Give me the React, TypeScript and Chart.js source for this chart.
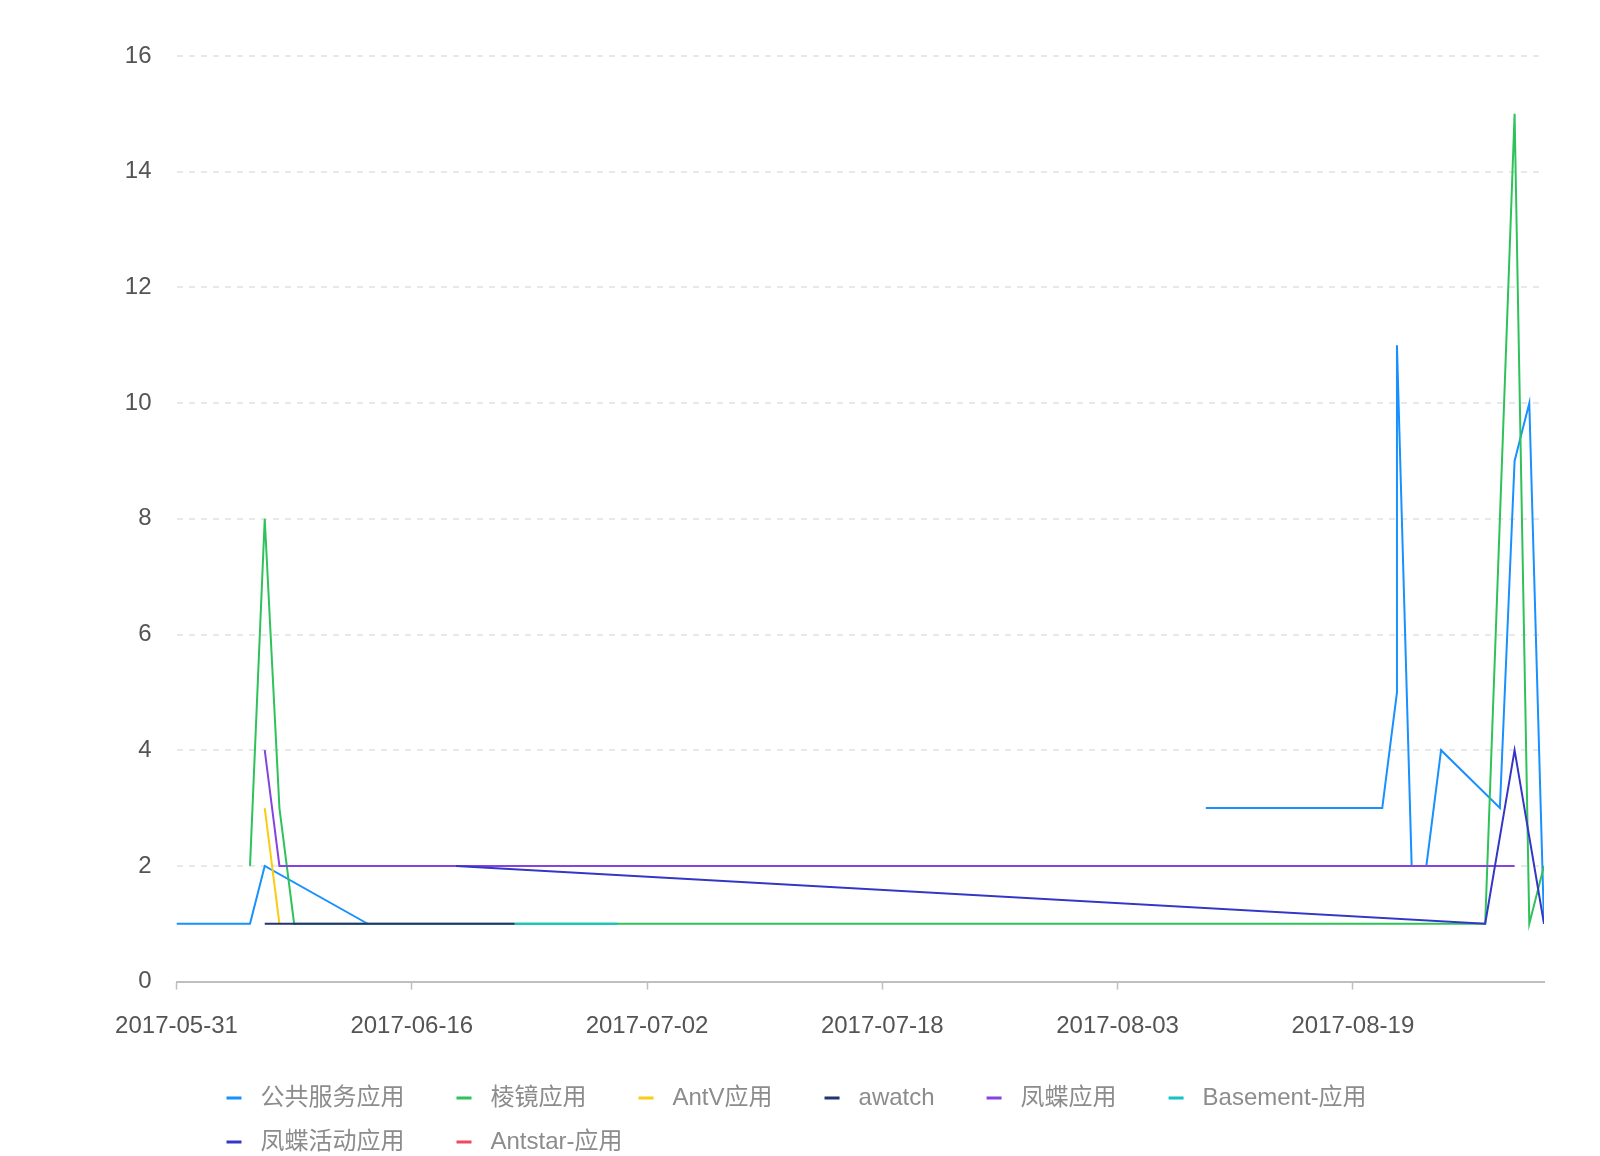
import React, { useEffect, useRef } from 'react';
import { Chart, registerables } from 'chart.js';

Chart.register(...registerables);

// ---------------- data ----------------
const seriesNames = ['公共服务应用', '棱镜应用', 'AntV应用', 'awatch', '凤蝶应用', 'Basement-应用', '凤蝶活动应用', 'Antstar-应用'];
const seriesColors = ['#1890FF', '#2FC25B', '#FACC14', '#223273', '#8543E0', '#13C2C2', '#3436C7', '#F04864'];

const publicDates = ['2017-05-31', '2017-06-05', '2017-06-06', '2017-06-13', '2017-06-14', '2017-08-09', '2017-08-21', '2017-08-22', '2017-08-22', '2017-08-23', '2017-08-24', '2017-08-25', '2017-08-29', '2017-08-30', '2017-08-31', '2017-09-01'];
const publicValues = [1, 1, 2, 1, null, 3, 3, 5, 11, 2, 2, 4, 3, 9, 10, 1];

const prismDates = ['2017-06-05', '2017-06-06', '2017-06-07', '2017-06-08', '2017-08-28', '2017-08-30', '2017-08-31', '2017-09-01'];
const prismValues = [2, 8, 3, 1, 1, 15, 1, 2];

const antvDates = ['2017-06-06', '2017-06-07'];
const antvValues = [3, 1];

const awatchDates = ['2017-06-06', '2017-06-23'];
const awatchValues = [1, 1];

const fengdieDates = ['2017-06-06', '2017-06-07', '2017-08-30'];
const fengdieValues = [4, 2, 2];

const basementDates = ['2017-06-23', '2017-06-30'];
const basementValues = [1, 1];

const fengdieEventDates = ['2017-06-19', '2017-08-28', '2017-08-30', '2017-09-01'];
const fengdieEventValues = [2, 1, 4, 1];

const antstarDates = ['2017-06-30'];
const antstarValues = [1];

const seriesDates = [publicDates, prismDates, antvDates, awatchDates, fengdieDates, basementDates, fengdieEventDates, antstarDates];
const seriesValues = [publicValues, prismValues, antvValues, awatchValues, fengdieValues, basementValues, fengdieEventValues, antstarValues];

const xStartDate = '2017-05-31';
const xEndDate = '2017-09-01';
const xTickLabels = ['2017-05-31', '2017-06-16', '2017-07-02', '2017-07-18', '2017-08-03', '2017-08-19'];
const yMin = 0;
const yMax = 16;
const yStep = 2;

// ---------------- helpers ----------------
const DAY = 86400000;
const dayOf = (d: string) => Math.round((Date.parse(d) - Date.parse(xStartDate)) / DAY);

const FONT_FAMILY = '"Liberation Sans", Arial, "Noto Sans CJK SC", sans-serif';

const legendPlugin = {
  id: 'g2Legend',
  afterDraw(chart: any) {
    const ctx = chart.ctx;
    ctx.save();
    ctx.font = `24px ${FONT_FAMILY}`;
    ctx.textBaseline = 'middle';
    ctx.textAlign = 'left';
    const startX = 226.5;
    let x = startX;
    let y = 1098;
    const rowGap = 44;
    const maxRight = chart.chartArea.right;
    chart.data.datasets.forEach((ds: any) => {
      const w = ctx.measureText(ds.label).width;
      const itemW = 34 + w;
      if (x !== startX && x + itemW > maxRight) {
        x = startX;
        y += rowGap;
      }
      ctx.fillStyle = ds.borderColor;
      ctx.fillRect(x, y - 1.5, 15, 3);
      ctx.fillStyle = '#8C8C8C';
      ctx.fillText(ds.label, x + 34, y);
      x += itemW + 52;
    });
    ctx.restore();
  },
};

export default function App() {
  const canvasRef = useRef<HTMLCanvasElement | null>(null);

  useEffect(() => {
    if (!canvasRef.current) return;
    const datasets = seriesNames.map((name, i) => ({
      label: name,
      data: seriesDates[i].map((d, j) => ({ x: dayOf(d), y: seriesValues[i][j] })),
      borderColor: seriesColors[i],
      backgroundColor: seriesColors[i],
      borderWidth: 2,
      pointRadius: 0,
      pointHoverRadius: 0,
      tension: 0,
      fill: false,
      spanGaps: false,
      order: -i,
    }));

    const tickDays = xTickLabels.map(dayOf);

    const chart = new Chart(canvasRef.current, {
      type: 'line',
      data: { datasets },
      plugins: [legendPlugin],
      options: {
        animation: false,
        responsive: true,
        maintainAspectRatio: false,
        parsing: true,
        layout: { padding: { top: 56, right: 56, left: 0, bottom: 0 } },
        plugins: {
          legend: { display: false },
          tooltip: { enabled: false },
          title: { display: false },
        },
        scales: {
          x: {
            type: 'linear',
            min: 0,
            max: dayOf(xEndDate),
            afterBuildTicks: (scale: any) => {
              scale.ticks = tickDays.map((v) => ({ value: v }));
            },
            afterFit: (scale: any) => {
              scale.height = 174.4;
            },
            ticks: {
              autoSkip: false,
              maxRotation: 0,
              padding: 22,
              color: '#545454',
              font: { size: 24, family: FONT_FAMILY },
              callback: (v: any) => {
                const idx = tickDays.indexOf(Number(v));
                return idx >= 0 ? xTickLabels[idx] : '';
              },
            },
            grid: {
              drawOnChartArea: false,
              drawTicks: true,
              tickLength: 8,
              tickColor: '#BFBFBF',
              tickWidth: 1.5,
              color: '#BFBFBF',
            },
            border: { display: true, color: '#BFBFBF', width: 2 },
          },
          y: {
            type: 'linear',
            min: yMin,
            max: yMax,
            afterFit: (scale: any) => {
              scale.width = 176.5;
            },
            ticks: {
              stepSize: yStep,
              padding: 25,
              color: '#545454',
              font: { size: 24, family: FONT_FAMILY },
            },
            grid: {
              drawTicks: false,
              color: '#E8E8E8',
              lineWidth: 2,
            },
            border: { display: false, dash: [6, 6] },
          },
        },
      },
    });
    return () => chart.destroy();
  }, []);

  return (
    <div style={{ position: 'absolute', left: 0, top: 0, width: '1600px', height: '1156px', background: '#fff' }}>
      <canvas ref={canvasRef} />
    </div>
  );
}
